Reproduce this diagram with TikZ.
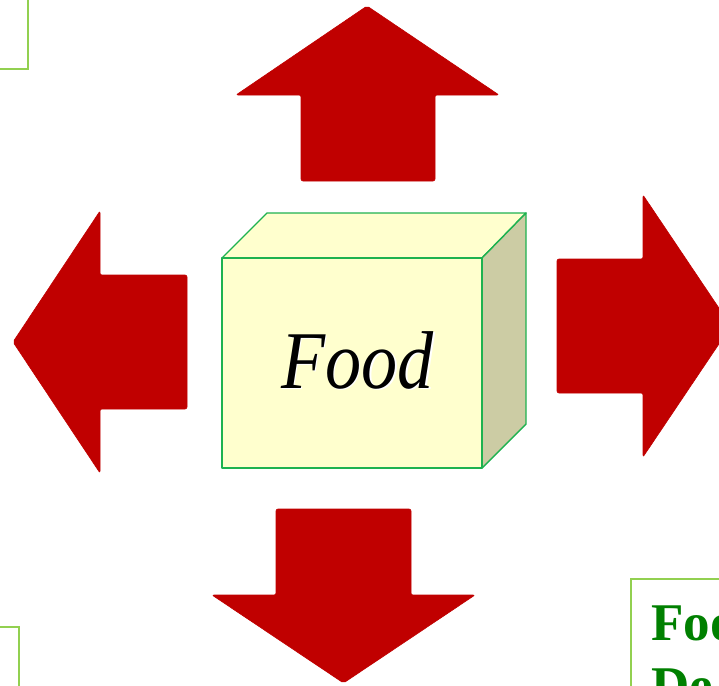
\documentclass[tikz,border=0pt]{standalone}
\usepackage{fontspec}
\setmainfont{Liberation Serif}
\definecolor{arrowred}{RGB}{192,0,0}
\definecolor{cubeline}{RGB}{30,178,80}
\definecolor{cubefront}{RGB}{255,255,206}
\definecolor{cubeside}{RGB}{204,204,164}
\definecolor{boxline}{RGB}{146,208,80}
\definecolor{textgreen}{RGB}{0,128,0}
\tikzset{
  bigarrow/.style={fill=arrowred, draw=arrowred, line width=0.6pt, rounded corners=2pt},
  cubeface/.style={draw=cubeline, line width=1.4pt, line join=round},
  sidebox/.style={draw=boxline, line width=2pt},
}
\begin{document}
\begin{tikzpicture}[x=1pt,y=-1pt]
\useasboundingbox (0,0) rectangle (719,685);
\clip (0,0) rectangle (719,685);
% partial boxes
\draw[sidebox] (-20,-20) rectangle (28,69);
\draw[sidebox] (-20,627) rectangle (19,720);
\draw[sidebox] (631,579) rectangle (760,720);
\node[anchor=base west, inner sep=0pt, text=textgreen, font=\fontsize{53}{53}\selectfont\bfseries] (foo) at (651,640) {Foo};
\node[anchor=base west, inner sep=0pt, text=textgreen, font=\fontsize{53}{53}\selectfont\bfseries] (de) at (651,703) {De};
% arrows
\path[bigarrow] (367,6) -- (499,95) -- (435,95) -- (435,181) -- (301,181) -- (301,95) -- (236,95) -- cycle;
\path[bigarrow] (13,342) -- (100,211) -- (100,275) -- (187,275) -- (187,409) -- (100,409) -- (100,473) -- cycle;
\path[bigarrow] (731,326) -- (643,195) -- (643,259) -- (557,259) -- (557,393) -- (643,393) -- (643,457) -- cycle;
\path[bigarrow] (343.5,683) -- (475,595) -- (411,595) -- (411,509) -- (276,509) -- (276,595) -- (212,595) -- cycle;
% cube
\path[cubeface, fill=cubefront] (222,258) -- (267,213) -- (526,213) -- (482,258) -- cycle;
\path[cubeface, fill=cubeside] (482,258) -- (526,213) -- (526,424) -- (482,468) -- cycle;
\path[cubeface, fill=cubefront] (222,258) rectangle (482,468);
\node[anchor=base, inner sep=0pt, text=white, font=\fontsize{82}{82}\selectfont\itshape, xscale=0.88] at (359,389.5) {Food};
\node[anchor=base, inner sep=0pt, font=\fontsize{82}{82}\selectfont\itshape, xscale=0.88] (food) at (357.5,388) {Food};
\end{tikzpicture}
\end{document}
